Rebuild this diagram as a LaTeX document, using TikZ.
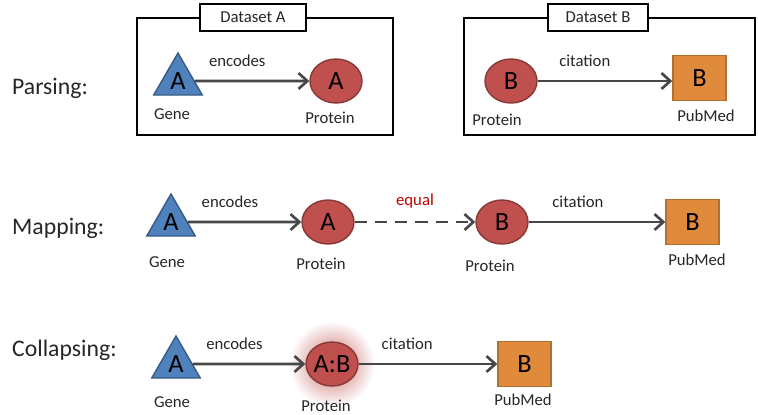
\documentclass[tikz,border=0pt]{standalone}
\usepackage{fontspec}
\setmainfont{Carlito}
\usepackage{xcolor}
\usepackage{tikz}
\usetikzlibrary{shapes.geometric,arrows.meta}
\definecolor{geneblue}{HTML}{4F81BD}
\definecolor{protred}{HTML}{C0504D}
\definecolor{pmorange}{HTML}{E08A3C}
\tikzset{gene/.style={regular polygon,regular polygon sides=3,minimum size=1.12cm,
        inner sep=0pt,fill=geneblue,draw=geneblue!70!black,line width=0.8pt,
        font=\fontsize{15}{15}\selectfont},
    protein/.style={ellipse,minimum width=1.04cm,minimum height=0.88cm,inner sep=0pt,
        fill=protred,draw=protred!70!black,line width=0.8pt,
        font=\fontsize{15}{15}\selectfont},
    pubmed/.style={rectangle,minimum width=1.06cm,minimum height=0.9cm,inner sep=0pt,
        fill=pmorange,draw=pmorange!80!black,line width=0.8pt,
        font=\fontsize{15}{15}\selectfont},
    tag/.style={font=\fontsize{9.5}{10}\selectfont,text=black!85},
    rowname/.style={anchor=west,font=\fontsize{13.5}{14}\selectfont,text=black!85},
    dataset/.style={draw,fill=white,line width=1pt,minimum height=0.54cm,
        font=\fontsize{9.5}{10}\selectfont,text=black!85},
    rel/.style={draw=black!72,line width=1.5pt,-{Straight Barb[length=5pt,width=9pt]}},
    eqrel/.style={rel,dash pattern=on 7pt off 4.5pt},
    x=0.02cm,y=-0.02cm}

\begin{document}
\begin{tikzpicture}
\useasboundingbox (0,0) rectangle (758,414);
% Parsing
\node[rowname] (parsing) at (6,88) {Parsing:};
\draw[line width=1.1pt] (137,18) rectangle (393,135);
\draw[line width=1.1pt] (464,18) rectangle (755,135);
\node[dataset,minimum width=2.12cm] (dsa) at (253,17.5) {Dataset A};
\node[dataset,minimum width=2.0cm] (dsb) at (598,17.5) {Dataset B};
\node[gene] (g1) at (178,81) {A};
\node[protein] (pa1) at (336,81) {A};
\node[protein] (pb1) at (511,81) {B};
\node[pubmed] (m1) at (699.5,78) {B};
\node[tag] (g1l) at (172,114) {Gene};
\node[tag] (pa1l) at (330,118) {Protein};
\node[tag] (pb1l) at (497,120) {Protein};
\node[tag] (m1l) at (706,116) {PubMed};
\draw[rel] (g1) -- node[tag,pos=0.37,above=4pt] (e1) {encodes} (pa1);
\draw[rel] (pb1) -- node[tag,pos=0.35,above=4pt] (c1) {citation} (pb1 -| m1.west);

% Mapping
\node[rowname] (mapping) at (6,228) {Mapping:};
\node[gene] (g2) at (171,222) {A};
\node[protein] (pa2) at (328,222) {A};
\node[protein] (pb2) at (502,222) {B};
\node[pubmed] (m2) at (692.5,222) {B};
\node[tag] (g2l) at (167,262) {Gene};
\node[tag] (pa2l) at (321,264) {Protein};
\node[tag] (pb2l) at (490,266) {Protein};
\node[tag] (m2l) at (697,260) {PubMed};
\draw[rel] (g2) -- node[tag,pos=0.37,above=4pt] (e2) {encodes} (pa2);
\draw[eqrel] (pa2) -- node[tag,text=red!75!black,above=4pt] (q2) {equal} (pb2);
\draw[rel] (pb2) -- node[tag,pos=0.36,above=4pt] (c2) {citation} (m2);

% Collapsing
\node[rowname] (collapsing) at (6,350) {Collapsing:};
\shade[inner color=protred!85,outer color=white] (332,364) circle[radius=0.86cm];
\node[gene] (g3) at (176,364) {A};
\node[protein] (pab) at (332,364) {A:B};
\node[pubmed] (m3) at (524.5,364) {B};
\node[tag] (g3l) at (172,402) {Gene};
\node[tag] (pabl) at (326,406) {Protein};
\node[tag] (m3l) at (523,400) {PubMed};
\draw[rel] (g3) -- node[tag,pos=0.37,above=4pt] (e3) {encodes} (pab);
\draw[rel] (pab) -- node[tag,pos=0.35,above=4pt] (c3) {citation} (m3);
\end{tikzpicture}
\end{document}
